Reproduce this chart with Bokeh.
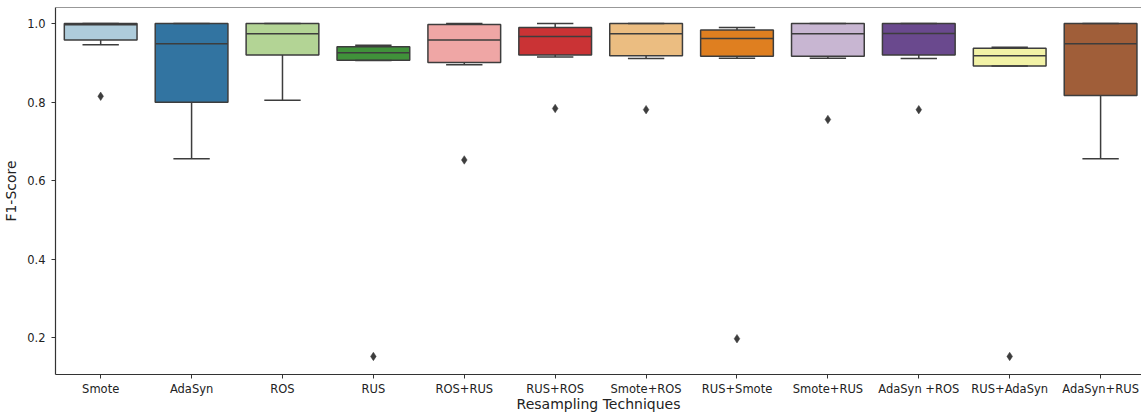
import colorsys
from bokeh.plotting import figure
from bokeh.models import Range1d, FixedTicker, NumeralTickFormatter, Span, ColumnDataSource
from bokeh.embed import file_html
from bokeh.resources import INLINE

# ---- data ----
categories = ["Smote", "AdaSyn", "ROS", "RUS", "ROS+RUS", "RUS+ROS", "Smote+ROS",
              "RUS+Smote", "Smote+RUS", "AdaSyn +ROS", "RUS+AdaSyn", "AdaSyn+RUS"]
lower_whisker = [0.946, 0.656, 0.805, 0.906, 0.895, 0.915, 0.911, 0.912, 0.912, 0.911, 0.892, 0.656]
q1_values     = [0.958, 0.800, 0.920, 0.907, 0.901, 0.920, 0.918, 0.917, 0.917, 0.920, 0.892, 0.817]
median_values = [0.997, 0.949, 0.974, 0.926, 0.958, 0.967, 0.974, 0.962, 0.974, 0.975, 0.918, 0.949]
q3_values     = [1.000, 1.000, 1.000, 0.941, 0.998, 0.990, 1.000, 0.984, 1.000, 1.000, 0.937, 1.000]
upper_whisker = [1.000, 1.000, 1.000, 0.945, 1.000, 1.000, 1.000, 0.990, 1.000, 1.000, 0.940, 1.000]
outlier_cats   = ["Smote", "RUS", "ROS+RUS", "RUS+ROS", "Smote+ROS", "RUS+Smote",
                  "Smote+RUS", "AdaSyn +ROS", "RUS+AdaSyn"]
outlier_values = [0.815, 0.153, 0.653, 0.784, 0.781, 0.198, 0.756, 0.781, 0.153]
y_ticks = [0.2, 0.4, 0.6, 0.8, 1.0]

# ---- style ----
paired = ["#a6cee3", "#1f78b4", "#b2df8a", "#33a02c", "#fb9a99", "#e31a1c",
          "#fdbf6f", "#ff7f00", "#cab2d6", "#6a3d9a", "#ffff99", "#b15928"]


def desaturate(hx, prop=0.75):
    r, g, b = (int(hx[i:i + 2], 16) / 255 for i in (1, 3, 5))
    h, l, s = colorsys.rgb_to_hls(r, g, b)
    r, g, b = colorsys.hls_to_rgb(h, l, s * prop)
    return "#%02x%02x%02x" % (round(r * 255), round(g * 255), round(b * 255))


fills = [desaturate(c) for c in paired]
edge = "#3d3d3d"
spine = "#333333"
font = "DejaVu Sans"

x_idx = list(range(len(categories)))
pos = {c: i for i, c in enumerate(categories)}
half_box = 0.4
half_cap = 0.2

box_src = ColumnDataSource(dict(
    x=x_idx, q1=q1_values, q3=q3_values, med=median_values,
    lo=lower_whisker, hi=upper_whisker, fill=fills,
    x0=[i - half_box for i in x_idx], x1=[i + half_box for i in x_idx],
    c0=[i - half_cap for i in x_idx], c1=[i + half_cap for i in x_idx],
))
out_src = ColumnDataSource(dict(x=[pos[c] for c in outlier_cats], y=outlier_values))

y_start, y_end = 0.107, 1.041

p = figure(width=1141, height=414, output_backend="svg", toolbar_location=None,
           x_range=Range1d(-0.497, 11.45), y_range=Range1d(y_start, y_end),
           min_border_left=55, min_border_right=0, min_border_top=7, min_border_bottom=0)
p.outline_line_color = None
p.xgrid.visible = False
p.ygrid.visible = False
p.background_fill_color = "white"
p.border_fill_color = "white"

# whiskers
p.segment(x0="x", y0="q3", x1="x", y1="hi", source=box_src, line_color=edge, line_width=1.5)
p.segment(x0="x", y0="q1", x1="x", y1="lo", source=box_src, line_color=edge, line_width=1.5)
# boxes
p.vbar(x="x", width=2 * half_box, top="q3", bottom="q1", source=box_src,
       fill_color="fill", line_color=edge, line_width=1.5)
# caps
p.segment(x0="c0", y0="hi", x1="c1", y1="hi", source=box_src, line_color=edge, line_width=1.5)
p.segment(x0="c0", y0="lo", x1="c1", y1="lo", source=box_src, line_color=edge, line_width=1.5)
# medians
p.segment(x0="x0", y0="med", x1="x1", y1="med", source=box_src, line_color=edge, line_width=1.5)
# outliers
p.scatter(x="x", y="y", source=out_src, marker="diamond", size=8.5,
          fill_color=edge, line_color=edge, line_width=0.5)

# top spine
p.add_layout(Span(location=y_end, dimension="width", line_color=spine, line_width=1.2))

# axes
xa = p.xaxis[0]
xa.ticker = FixedTicker(ticks=x_idx)
xa.major_label_overrides = {i: c for i, c in enumerate(categories)}
ya = p.yaxis[0]
ya.ticker = FixedTicker(ticks=y_ticks)
ya.formatter = NumeralTickFormatter(format="0.0")
for ax in (xa, ya):
    ax.axis_line_color = spine
    ax.axis_line_width = 1.2
    ax.major_tick_line_color = spine
    ax.major_tick_line_width = 1
    ax.major_tick_out = 4
    ax.major_tick_in = 0
    ax.minor_tick_line_color = None
    ax.major_label_text_font = font
    ax.major_label_text_font_size = "11.5px"
    ax.major_label_text_color = "#222222"
    ax.axis_label_text_font = font
    ax.axis_label_text_font_size = "14px"
    ax.axis_label_text_font_style = "normal"
    ax.axis_label_text_color = "#222222"
xa.axis_label = "Resampling Techniques"
ya.axis_label = "F1-Score"
xa.major_label_standoff = 3
xa.axis_label_standoff = -3
ya.major_label_standoff = 6
ya.axis_label_standoff = 5

open("out.html", "w").write(file_html(p, INLINE))
